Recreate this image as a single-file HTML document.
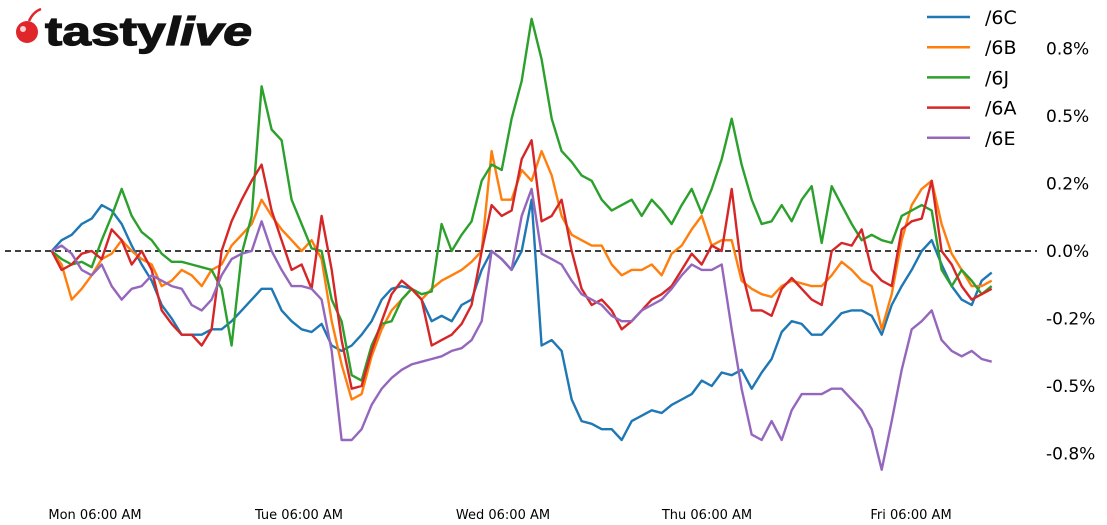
<!DOCTYPE html>
<html><head><meta charset="utf-8"><style>
html,body{margin:0;padding:0;background:#fff;}
svg{display:block;font-family:"DejaVu Sans","Liberation Sans",sans-serif;}
</style></head><body>
<svg id="chart" width="1107" height="525" viewBox="0 0 1107 525">
  <g>
    <circle cx="27" cy="32" r="11" fill="#e0262b"/>
    <circle cx="23" cy="29" r="3" fill="#fff" opacity="0.8"/>
    <path d="M29 21 Q33 12 41 9" stroke="#e0262b" stroke-width="2.5" fill="none"/>
    <text x="45" y="45" font-family="'Liberation Sans',sans-serif" font-weight="bold" font-size="40" fill="#111" textLength="207" lengthAdjust="spacingAndGlyphs" stroke="#111" stroke-width="1.2">tasty<tspan font-style="italic">live</tspan></text>
  </g>
  <g id="plot"></g>
  <g id="axes"></g>
  <g id="legend"></g>
</svg>
<script>
const dayLabels = ["Mon 06:00 AM","Tue 06:00 AM","Wed 06:00 AM","Thu 06:00 AM","Fri 06:00 AM"];
const dayTickHours = [6,30,54,78,102];
const yTicks = [0.75,0.5,0.25,0,-0.25,-0.5,-0.75];
const yTickLabels = ["0.8%","0.5%","0.2%","0.0%","-0.2%","-0.5%","-0.8%"];
const seriesNames = ["/6C","/6B","/6J","/6A","/6E"];
const seriesColors = ["#1f77b4","#ff7f0e","#2ca02c","#d62728","#9467bd"];
const startHour = 0.9;
const stepHours = 10/8.5;
const s6C = [0,.04,.06,.10,.12,.17,.15,.10,.02,-.05,-.11,-.20,-.25,-.31,-.31,-.31,-.29,-.29,-.26,-.22,-.18,-.14,-.14,-.22,-.26,-.29,-.30,-.27,-.35,-.37,-.35,-.31,-.26,-.18,-.14,-.13,-.14,-.18,-.26,-.24,-.26,-.20,-.18,-.07,0,-.03,-.07,0,.19,-.35,-.33,-.37,-.55,-.63,-.64,-.66,-.66,-.70,-.63,-.61,-.59,-.60,-.57,-.55,-.53,-.48,-.50,-.45,-.46,-.44,-.51,-.45,-.40,-.30,-.26,-.27,-.31,-.31,-.27,-.23,-.22,-.22,-.24,-.31,-.20,-.13,-.07,0,.04,-.05,-.13,-.18,-.20,-.11,-.08];
const s6B = [0,-.05,-.18,-.14,-.09,-.03,-.01,.04,0,-.03,-.05,-.13,-.11,-.07,-.09,-.13,-.07,-.05,.02,.06,.10,.19,.13,.08,.04,0,.04,-.03,-.26,-.42,-.55,-.53,-.39,-.29,-.22,-.18,-.14,-.18,-.14,-.11,-.09,-.07,-.04,0,.37,.19,.19,.30,.26,.37,.28,.13,.06,.04,.02,.02,-.05,-.09,-.07,-.07,-.05,-.09,-.01,.02,.08,.13,.02,.04,.04,-.11,-.14,-.16,-.17,-.13,-.11,-.12,-.13,-.13,-.09,-.04,-.07,-.11,-.13,-.29,-.16,.04,.17,.23,.26,.10,-.01,-.07,-.13,-.13,-.11];
const s6J = [0,-.03,-.05,-.04,-.06,.04,.13,.23,.13,.07,.04,-.01,-.04,-.04,-.05,-.06,-.07,-.14,-.35,-.01,.13,.61,.45,.41,.19,.10,.01,0,-.18,-.26,-.46,-.48,-.35,-.27,-.26,-.18,-.14,-.16,-.15,.10,0,.06,.11,.26,.32,.30,.49,.63,.86,.71,.49,.37,.33,.28,.26,.19,.15,.17,.19,.13,.19,.15,.10,.17,.23,.14,.23,.34,.49,.32,.19,.10,.11,.17,.11,.19,.24,.03,.24,.17,.10,.04,.06,.04,.03,.13,.15,.17,.15,-.07,-.13,-.07,-.11,-.16,-.13];
const s6A = [0,-.07,-.05,-.01,0,-.03,.08,.04,-.05,0,-.07,-.22,-.27,-.31,-.31,-.35,-.29,0,.11,.19,.26,.32,.15,.04,-.07,-.05,-.14,.13,-.07,-.33,-.51,-.50,-.37,-.26,-.16,-.11,-.14,-.18,-.35,-.33,-.31,-.27,-.20,0,.17,.13,.15,.34,.41,.11,.13,.19,0,-.14,-.20,-.18,-.22,-.29,-.26,-.22,-.18,-.16,-.13,-.07,-.01,-.05,.02,0,.23,-.07,-.22,-.22,-.24,-.14,-.10,-.14,-.18,-.20,0,.03,.02,.08,-.07,-.11,-.13,.08,.11,.12,.26,0,-.05,-.13,-.18,-.16,-.14];
const s6E = [0,.02,-.01,-.07,-.09,-.05,-.13,-.18,-.14,-.13,-.09,-.11,-.13,-.14,-.20,-.22,-.18,-.09,-.03,-.01,0,.11,0,-.07,-.13,-.13,-.14,-.18,-.37,-.70,-.70,-.66,-.57,-.51,-.47,-.44,-.42,-.41,-.40,-.39,-.37,-.36,-.33,-.26,0,-.03,-.07,.13,.23,-.01,-.03,-.05,-.11,-.16,-.18,-.20,-.24,-.26,-.26,-.22,-.20,-.18,-.14,-.09,-.05,-.07,-.07,-.05,-.29,-.51,-.68,-.70,-.63,-.70,-.59,-.53,-.53,-.53,-.51,-.51,-.55,-.59,-.66,-.81,-.63,-.44,-.29,-.26,-.22,-.33,-.37,-.39,-.37,-.40,-.41];
const seriesData = [s6C, s6B, s6J, s6A, s6E];

const NS = "http://www.w3.org/2000/svg";
function xScale(h){ return 95 + (h - 6) * 8.5; }
function yScale(v){ return 251 - v * 270; }
function mk(tag, attrs, parent){ const e = document.createElementNS(NS, tag); for (const k in attrs) e.setAttribute(k, attrs[k]); parent.appendChild(e); return e; }

const plot = document.getElementById("plot");
const axes = document.getElementById("axes");
const legend = document.getElementById("legend");

const zero = mk("line", {x1:5, x2:1037, y1:yScale(0), y2:yScale(0), stroke:"#000", "stroke-width":1.5, "stroke-dasharray":"6,4"}, plot);



seriesData.forEach((arr, si) => {
  let d = "";
  arr.forEach((v, i) => {
    const h = startHour + i * stepHours;
    d += (i ? "L" : "M") + xScale(h).toFixed(1) + " " + yScale(v).toFixed(1);
  });
  const p = mk("path", {d:d, fill:"none", stroke:seriesColors[si], "stroke-width":2.4, "stroke-linejoin":"round"}, plot);
  
  
});

yTicks.forEach((v, i) => {
  const t = mk("text", {x:1046, y:yScale(v) + 6, "font-size":17, fill:"#000"}, axes);
  t.textContent = yTickLabels[i];
  
  
});
dayTickHours.forEach((h, i) => {
  const t = mk("text", {x:xScale(h), y:519, "font-size":13, fill:"#000", "text-anchor":"middle"}, axes);
  t.textContent = dayLabels[i];
  
  
});

seriesNames.forEach((n, i) => {
  const y = 17 + i * 30.2;
  const g = mk("g", {}, legend);
  
  
  mk("line", {x1:927, x2:970, y1:y, y2:y, stroke:seriesColors[i], "stroke-width":2.5}, g);
  const t = mk("text", {x:985, y:y + 7, "font-size":19, fill:"#000"}, g);
  t.textContent = n;
});
</script>
</body></html>
